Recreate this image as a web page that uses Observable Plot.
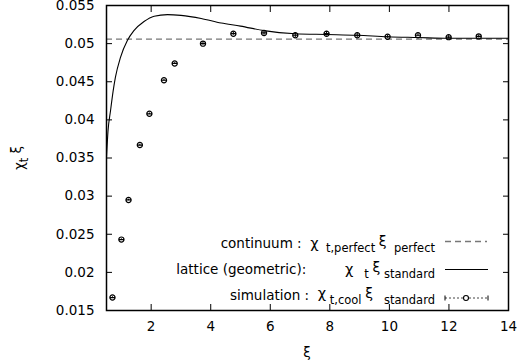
<!DOCTYPE html>
<html><head><meta charset="utf-8">
<script src="https://cdn.jsdelivr.net/npm/d3@7"></script>
<script src="https://cdn.jsdelivr.net/npm/@observablehq/plot@0.6"></script>
<style>body{margin:0;background:#fff} svg{font-family:"DejaVu Sans",sans-serif}</style>
</head><body><div id="chart"></div>
<script>
// simulation: chi_{t,cool} xi_standard
const simXi  = [0.70, 1.00, 1.24, 1.62, 1.94, 2.43, 2.79, 3.74, 4.76, 5.79, 6.84, 7.89, 8.92, 9.94, 10.96, 11.99, 13.0];
const simChi = [0.0167, 0.0243, 0.0295, 0.0367, 0.0408, 0.0452, 0.0474, 0.0500, 0.0513, 0.0514, 0.0511, 0.0513, 0.0511, 0.0509, 0.0511, 0.05085, 0.05095];
const simErr = [0.0001, 0.0001, 0.0001, 0.0001, 0.0001, 0.0001, 0.0001, 0.0002, 0.0002, 0.0003, 0.0003, 0.0003, 0.0003, 0.0002, 0.0002, 0.0002, 0.0002];
// lattice (geometric): chi_t xi_standard
const curveXi  = [0.5, 0.55, 0.635, 0.72, 0.8, 0.97, 1.2, 1.42, 1.76, 2.1, 2.55, 3.0, 3.68, 4.35, 5.0, 5.79, 6.84, 7.89, 8.92, 9.94, 10.96, 11.99, 14];
const curveChi = [0.0351, 0.0385, 0.0412, 0.0437, 0.0456, 0.0482, 0.0504, 0.0517, 0.0529, 0.0536, 0.0538, 0.0537, 0.0533, 0.0527, 0.0523, 0.0517, 0.0513, 0.0512, 0.0511, 0.0509, 0.0508, 0.0507, 0.0507];
// continuum: chi_{t,perfect} xi_perfect
const continuumValue = 0.0506;
const xTicks = [2, 4, 6, 8, 10, 12, 14];
const yTicks = [0.015, 0.02, 0.025, 0.03, 0.035, 0.04, 0.045, 0.05, 0.055];

const sim = simXi.map((x, i) => ({x, y: simChi[i], e: simErr[i]}));
const curve = curveXi.map((x, i) => ({x, y: curveChi[i]}));

const circleBar = {
  draw(ctx, size) {
    const r = Math.sqrt(size / Math.PI);
    ctx.moveTo(r, 0); ctx.arc(0, 0, r, 0, 2 * Math.PI);
    ctx.moveTo(-r, 0); ctx.lineTo(r, 0);
  }
};

const FONT = '"DejaVu Sans", sans-serif';
const plot = Plot.plot({
  width: 518, height: 364,
  marginLeft: 106, marginRight: 10, marginTop: 5, marginBottom: 54,
  style: {fontFamily: FONT, fontSize: "13.5px", color: "black", background: "white"},
  x: {domain: [0.5, 14]},
  y: {domain: [0.015, 0.055]},
  marks: [
    Plot.ruleY([continuumValue], {stroke: "#777", strokeDasharray: "6,4", strokeWidth: 1.3}),
    Plot.line(curve, {x: "x", y: "y", curve: "monotone-x", stroke: "black", strokeWidth: 1.1}),
    Plot.ruleX(sim, {x: "x", y1: d => d.y - d.e, y2: d => d.y + d.e, stroke: "black", strokeWidth: 1}),
    Plot.dot(sim, {x: "x", y: "y", symbol: circleBar, r: 2.6, stroke: "black", strokeWidth: 1.2, fill: "none"}),
    Plot.axisX(xTicks, {anchor: "bottom", tickSize: -6, tickPadding: 17, label: null, fontSize: 13.5}),
    Plot.axisX(xTicks, {anchor: "top", tickSize: -6, tickFormat: () => "", label: null}),
    Plot.axisY(yTicks, {anchor: "left", tickSize: -6, tickPadding: 18, tickFormat: d => String(+d.toFixed(3)), label: null, fontSize: 13.5}),
    Plot.axisY(yTicks, {anchor: "right", tickSize: -6, tickFormat: () => "", label: null}),
    Plot.frame({stroke: "black", strokeWidth: 1.5})
  ]
});

const svg = d3.select(plot);
const g = svg.append("g").attr("fill", "black").attr("font-size", 13.5).attr("font-family", FONT);

function richText(sel, parts) {
  let cur = 0;
  parts.forEach(([s, off, size]) => {
    sel.append("tspan").attr("dy", off - cur).attr("font-size", size).text(s);
    cur = off;
  });
}
function row(y, parts) {
  const t = g.append("text").attr("x", 435).attr("y", y).attr("text-anchor", "end").style("white-space", "pre");
  richText(t, parts);
}
row(248, [["continuum :  ", 0, 13.5], ["χ", 0, 14.5], ["  t,perfect ", 4, 11.5], ["ξ", -2, 14], ["  perfect", 4, 11.5]]);
row(274, [["lattice (geometric):         ", 0, 13.5], ["χ", 0, 14.5], ["   t ", 4, 11.5], ["ξ", -2, 14], [" standard", 4, 11.5]]);
row(299.5, [["simulation :  ", 0, 13.5], ["χ", -2, 14.5], [" t,cool ", 4, 11.5], ["ξ", -2, 14], ["   standard", 4, 11.5]]);

// legend samples
g.append("line").attr("x1", 445).attr("x2", 487).attr("y1", 241.5).attr("y2", 241.5)
  .attr("stroke", "#777").attr("stroke-width", 1.3).attr("stroke-dasharray", "6,4");
g.append("line").attr("x1", 445).attr("x2", 488).attr("y1", 269.5).attr("y2", 269.5)
  .attr("stroke", "black").attr("stroke-width", 1.1);
g.append("line").attr("x1", 445).attr("x2", 488).attr("y1", 298).attr("y2", 298)
  .attr("stroke", "#444").attr("stroke-width", 1).attr("stroke-dasharray", "2,2");
[445, 488].forEach(x => g.append("line").attr("x1", x).attr("x2", x).attr("y1", 295.5).attr("y2", 300.5).attr("stroke", "black"));
g.append("circle").attr("cx", 466).attr("cy", 298).attr("r", 2.5).attr("fill", "white").attr("stroke", "black").attr("stroke-width", 1.1);

// axis labels
g.append("text").attr("x", 307).attr("y", 357).attr("text-anchor", "middle").text("ξ");
const yl = g.append("text").attr("transform", "translate(24,158) rotate(-90)").attr("text-anchor", "middle").style("white-space", "pre");
richText(yl, [["χ", 0, 13.5], ["t", 4, 11.5], [" ξ", -3, 13.5]]);

document.getElementById("chart").appendChild(plot);
</script>
</body></html>
